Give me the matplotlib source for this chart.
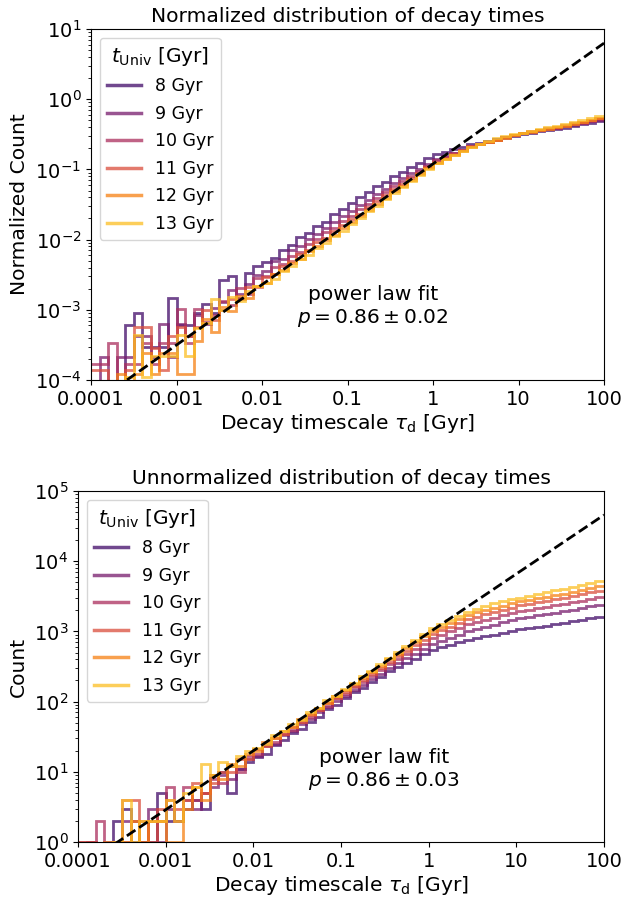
import numpy as np
import matplotlib
matplotlib.use("Agg")
import matplotlib.pyplot as plt
from matplotlib.lines import Line2D
from matplotlib.ticker import FixedLocator, FixedFormatter, NullLocator

# universe ages (Gyr) for each histogram
ages = [8, 9, 10, 11, 12, 13]

# x tick labels
tick_vals = [1e-4, 1e-3, 1e-2, 1e-1, 1, 10, 100]
tick_labels = ["0.0001", "0.001", "0.01", "0.1", "1", "10", "100"]

# raw counts per log bin (10 bins per decade, 1e-4 .. 100 Gyr)
counts_8 = [0, 0, 0, 0, 2, 3, 1, 1, 1, 5,
            2, 2, 3, 4, 3, 9, 10, 5, 11, 14,
            16, 18, 24, 28, 36, 41, 52, 60, 78, 90,
            112, 135, 158, 192, 224, 270, 308, 360, 410, 478,
            550, 596, 646, 700, 760, 805, 850, 900, 955, 1010,
            1070, 1120, 1165, 1210, 1265, 1320, 1390, 1460, 1540, 1620]
counts_9 = [0, 1, 0, 1, 1, 2, 2, 1, 3, 1,
            3, 2, 4, 3, 5, 6, 9, 8, 11, 15,
            17, 23, 25, 33, 38, 48, 56, 70, 83, 102,
            122, 148, 175, 212, 250, 303, 352, 414, 482, 566,
            660, 735, 812, 900, 1000, 1075, 1155, 1245, 1340, 1440,
            1550, 1620, 1700, 1780, 1860, 1950, 2050, 2160, 2275, 2400]
counts_10 = [1, 1, 2, 0, 1, 1, 2, 1, 2, 2,
             6, 2, 6, 4, 5, 8, 7, 12, 10, 17,
             18, 24, 27, 35, 40, 51, 60, 75, 88, 111,
             130, 160, 190, 233, 280, 340, 400, 478, 563, 672,
             795, 890, 1000, 1120, 1260, 1355, 1455, 1565, 1690, 1810,
             1950, 2040, 2140, 2240, 2345, 2455, 2600, 2755, 2915, 3090]
counts_11 = [1, 1, 0, 0, 1, 4, 4, 2, 1, 3,
             4, 3, 4, 7, 5, 7, 10, 10, 15, 15,
             21, 23, 30, 35, 44, 51, 65, 76, 95, 113,
             139, 166, 206, 248, 306, 370, 446, 530, 638, 760,
             912, 1035, 1175, 1335, 1515, 1630, 1750, 1885, 2030, 2180,
             2345, 2465, 2595, 2730, 2870, 3020, 3200, 3390, 3590, 3800]
counts_12 = [0, 0, 0, 1, 0, 1, 2, 1, 2, 2,
             1, 1, 3, 6, 4, 9, 8, 13, 12, 18,
             20, 27, 30, 38, 44, 56, 66, 82, 97, 120,
             144, 178, 216, 266, 324, 400, 480, 582, 700, 848,
             1025, 1170, 1335, 1520, 1740, 1870, 2010, 2165, 2330, 2500,
             2690, 2830, 2980, 3135, 3295, 3465, 3695, 3935, 4195, 4465]
counts_13 = [0, 0, 0, 0, 1, 4, 1, 2, 2, 2,
             4, 2, 5, 6, 13, 9, 14, 12, 17, 20,
             22, 25, 33, 38, 48, 55, 70, 82, 104, 121,
             153, 183, 230, 275, 342, 415, 510, 615, 760, 915,
             1120, 1290, 1475, 1680, 1900, 2090, 2290, 2510, 2750, 2880,
             3020, 3200, 3400, 3610, 3840, 4070, 4340, 4620, 4920, 5250]

# normalisation constant of each age (top panel = counts / norm)
norm = [3340, 4710, 5930, 7090, 8210, 9100]

# power law fits: amplitude, slope
fit_normed = (0.12, 0.86)
fit_counts = (954, 0.84)
fit_err = ["0.02", "0.03"]

all_counts = [counts_8, counts_9, counts_10, counts_11, counts_12, counts_13]
edges = np.logspace(-4, 2, 61)
colors = plt.cm.inferno(np.linspace(0.2, 0.85, len(ages)))

fig = plt.figure(figsize=(6.26, 8.99), dpi=100)
ax1 = fig.add_axes([0.1454, 0.5773, 0.8195, 0.3904])
ax2 = fig.add_axes([0.1246, 0.0634, 0.8403, 0.3904])


def draw_panel(ax, series, fit, err, ylim, ylabel, title, text_pos):
    for vals, col in zip(series, colors):
        ax.stairs(vals, edges, color=col, alpha=0.75, lw=2, baseline=None)
    tau = np.logspace(-4, 2, 200)
    ax.plot(tau, fit[0] * tau ** fit[1], "k--", lw=2)
    ax.set_xscale("log")
    ax.set_yscale("log", nonpositive="clip")
    ax.set_xlim(1e-4, 100)
    ax.set_ylim(*ylim)
    ax.xaxis.set_major_locator(FixedLocator(tick_vals))
    ax.xaxis.set_major_formatter(FixedFormatter(tick_labels))
    ax.xaxis.set_minor_locator(NullLocator())
    ax.tick_params(labelsize=14)
    ax.tick_params(axis="x", pad=4)
    ax.set_xlabel(r"Decay timescale $\tau_\mathrm{d}$ [Gyr]", fontsize=14.6, labelpad=2)
    ax.set_ylabel(ylabel, fontsize=14.6)
    ax.set_title(title, fontsize=14.6, pad=5)
    ax.text(text_pos[0], text_pos[1], "power law fit\n$p = 0.86 \\pm " + err + "$",
            transform=ax.transAxes, ha="center", va="center", fontsize=14.5)
    handles = [Line2D([], [], color=c, alpha=0.75, lw=2.5) for c in colors]
    ax.legend(handles, [f"{a} Gyr" for a in ages], loc="upper left",
              title=r"$t_\mathrm{Univ}$ [Gyr]", fontsize=12.5, title_fontsize=14.5,
              labelspacing=0.55)


normed = [np.array(c) / n for c, n in zip(all_counts, norm)]
draw_panel(ax1, normed, fit_normed, fit_err[0], (1e-4, 10), "Normalized Count",
           "Normalized distribution of decay times", (0.55, 0.208))
draw_panel(ax2, all_counts, fit_counts, fit_err[1], (1, 1e5), "Count",
           "Unnormalized distribution of decay times", (0.582, 0.205))

fig.savefig("out.png", dpi=100)
